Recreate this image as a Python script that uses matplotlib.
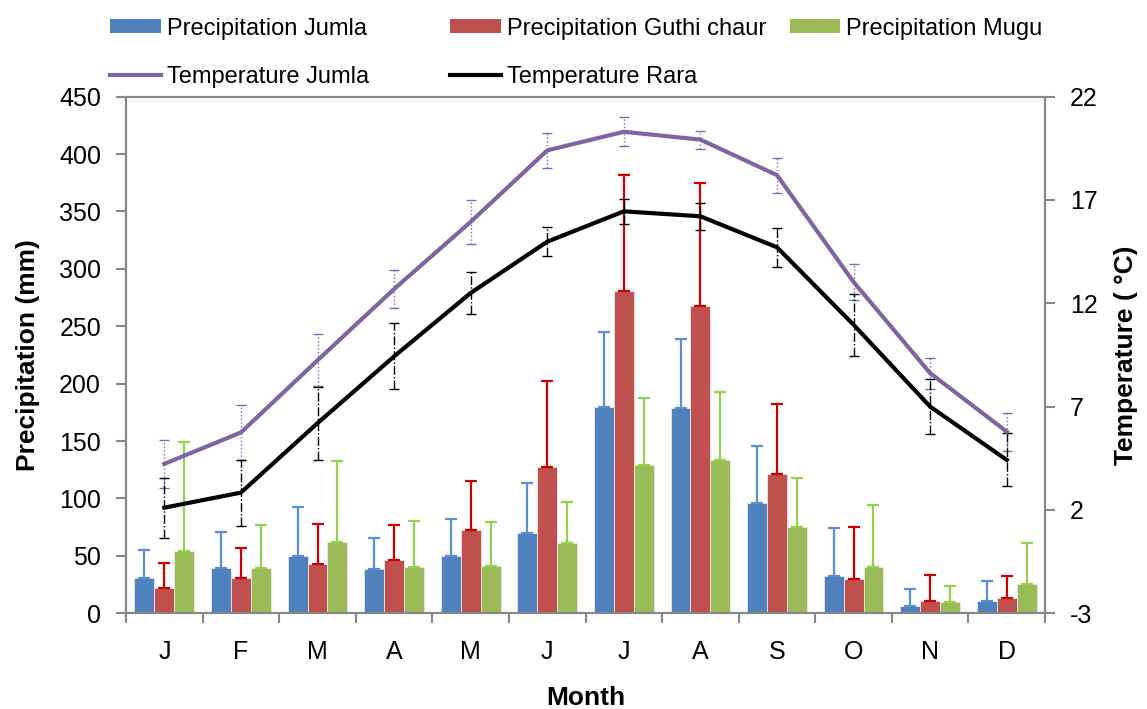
import numpy as np
import matplotlib
matplotlib.use("Agg")
import matplotlib.pyplot as plt
from matplotlib.patches import Patch
from matplotlib.lines import Line2D

plt.rcParams['font.family'] = ['Liberation Sans', 'DejaVu Sans']
plt.rcParams['axes.unicode_minus'] = False

# Monthly climate data
months = ['J', 'F', 'M', 'A', 'M', 'J', 'J', 'A', 'S', 'O', 'N', 'D']

precip_jumla = [30.5, 39.8, 50.3, 38.6, 50.3, 70, 180, 179, 96, 32.6, 6.3, 10.5]
precip_jumla_err = [24.7, 31.4, 42, 27, 31.6, 43.6, 65, 60, 49.6, 41.4, 15.2, 18]

precip_guthi = [22.4, 31, 42.5, 46, 72.7, 127.3, 280.5, 267.5, 121, 30, 10.8, 13.1]
precip_guthi_err = [21.6, 26, 35.5, 30.5, 42.3, 74.7, 101.2, 107.5, 61.5, 45, 22.2, 19.6]

precip_mugu = [54, 39.5, 62, 40.7, 41.6, 61.3, 129.4, 133.7, 75.3, 40.7, 9.9, 25.3]
precip_mugu_err = [95, 37.5, 71, 39.8, 38, 35.7, 58.1, 59.3, 42.4, 53.3, 13.6, 36]

temp_jumla = [4.23, 5.75, 9.24, 12.69, 15.94, 19.4, 20.3, 19.92, 18.2, 13.03, 8.62, 5.79]
temp_jumla_err = [1.17, 1.33, 1.26, 0.92, 1.08, 0.83, 0.7, 0.44, 0.84, 0.88, 0.75, 0.92]

temp_rara = [2.11, 2.84, 6.2, 9.43, 12.5, 14.98, 16.45, 16.21, 14.71, 10.96, 7.0, 4.42]
temp_rara_err = [1.46, 1.6, 1.77, 1.6, 1.0, 0.71, 0.61, 0.64, 0.95, 1.5, 1.34, 1.28]

#%% Figure setup
fig = plt.figure(figsize=(11.47, 7.09), dpi=100)
ax = fig.add_axes([0.1099, 0.135, 0.8012, 0.7287])
ax2 = ax.twinx()

x = np.arange(len(months))
w = 0.26
axis_grey = '#868686'

bar_specs = [
    (precip_jumla, precip_jumla_err, -w, '#4F81BD', '#5B8FD0', 'Precipitation Jumla'),
    (precip_guthi, precip_guthi_err, 0, '#C0504D', '#CC0000', 'Precipitation Guthi chaur'),
    (precip_mugu, precip_mugu_err, w, '#9BBB59', '#92D050', 'Precipitation Mugu'),
]

bar_handles = []
for vals, errs, off, col, ecol, lab in bar_specs:
    ax.bar(x + off, vals, w, color=col, edgecolor='#E8E8E8', linewidth=0.6, zorder=2)
    ax.errorbar(x + off, vals, yerr=[np.zeros(len(errs)), errs], fmt='none',
                ecolor=ecol, elinewidth=1.6, capsize=4.3, capthick=1.6, zorder=3)
    bar_handles.append(Patch(facecolor=col, label=lab))

# Temperature lines on the secondary axis
eb1 = ax2.errorbar(x, temp_jumla, yerr=temp_jumla_err, fmt='none', ecolor='#6F6FB5',
                   elinewidth=1.0, capsize=3.6, capthick=1.0, zorder=2)
eb1[2][0].set_linestyle(':')
eb2 = ax2.errorbar(x, temp_rara, yerr=temp_rara_err, fmt='none', ecolor='black',
                   elinewidth=1.0, capsize=3.6, capthick=1.0, zorder=2)
eb2[2][0].set_linestyle('-.')
ax2.plot(x, temp_jumla, color='#8064A2', linewidth=3.0, zorder=3)
ax2.plot(x, temp_rara, color='black', linewidth=3.0, zorder=3)

line_handles = [Line2D([], [], color='#8064A2', lw=3.0, label='Temperature Jumla'),
                Line2D([], [], color='black', lw=3.0, label='Temperature Rara')]

#%% Axes styling
ax.set_xlim(-0.5, 11.5)
ax.set_ylim(0, 450)
ax.set_yticks(np.arange(0, 451, 50))
ax2.set_ylim(-3, 22)
ax2.set_yticks(np.arange(-3, 23, 5))

ax.set_xticks(x)
ax.set_xticklabels(months)
ax.set_xticks(np.arange(-0.5, 12, 1), minor=True)
ax.tick_params(axis='x', which='major', length=0, pad=19, labelsize=18)
ax.tick_params(axis='x', which='minor', length=7, width=1.5, color=axis_grey)
ax.tick_params(axis='y', length=7, width=1.5, color=axis_grey, pad=11, labelsize=18)
ax2.tick_params(axis='y', length=7, width=1.5, color=axis_grey, pad=11, labelsize=18)

for a in (ax, ax2):
    for s in a.spines.values():
        s.set_color(axis_grey)
        s.set_linewidth(1.5)

ax.set_xlabel('Month', fontsize=19, fontweight='bold', labelpad=16)
ax.set_ylabel('Precipitation (mm)', fontsize=19, fontweight='bold', labelpad=14)
ax2.set_ylabel('Temperature ( \u00b0C)', fontsize=19, fontweight='bold', labelpad=12)

#%% Legends across the top
leg_kw = dict(frameon=False, fontsize=17, handlelength=2.15, handletextpad=0.25,
              handleheight=0.55, labelspacing=1.1, borderpad=0, borderaxespad=0,
              loc='upper left', bbox_transform=fig.transFigure)
fig.legend(handles=[bar_handles[0], line_handles[0]],
           bbox_to_anchor=(110 / 1147, 0.975), **leg_kw)
fig.legend(handles=[bar_handles[1], line_handles[1], bar_handles[2]], ncol=2,
           columnspacing=1.0, bbox_to_anchor=(450 / 1147, 0.975), **leg_kw)

fig.savefig('out.png', dpi=100)
